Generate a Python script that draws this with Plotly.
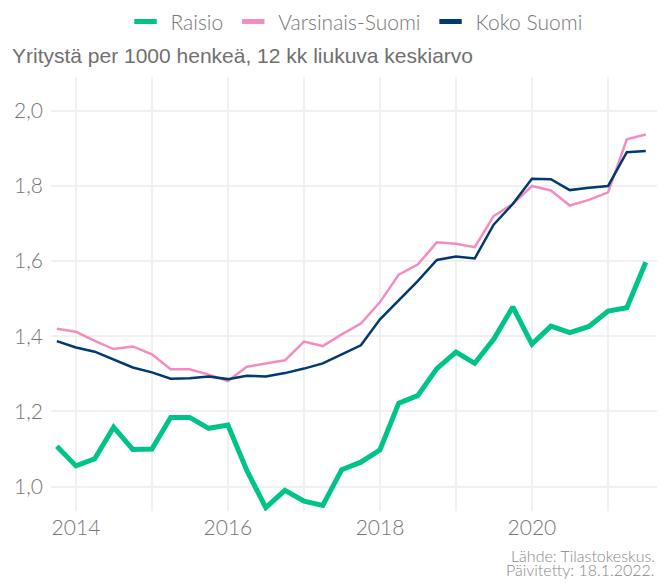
import plotly.graph_objects as go

dates = ["2013-10-01", "2014-01-01", "2014-04-01", "2014-07-01", "2014-10-01",
         "2015-01-01", "2015-04-01", "2015-07-01", "2015-10-01",
         "2016-01-01", "2016-04-01", "2016-07-01", "2016-10-01",
         "2017-01-01", "2017-04-01", "2017-07-01", "2017-10-01",
         "2018-01-01", "2018-04-01", "2018-07-01", "2018-10-01",
         "2019-01-01", "2019-04-01", "2019-07-01", "2019-10-01",
         "2020-01-01", "2020-04-01", "2020-07-01", "2020-10-01",
         "2021-01-01", "2021-04-01", "2021-07-01"]

raisio = [1.107, 1.055, 1.074, 1.158, 1.099, 1.100, 1.184, 1.184, 1.155,
          1.164, 1.043, 0.944, 0.990, 0.961, 0.950, 1.045, 1.065, 1.098,
          1.222, 1.242, 1.314, 1.358, 1.328, 1.392, 1.478, 1.379, 1.427,
          1.410, 1.426, 1.467, 1.476, 1.597]

varsinais = [1.420, 1.412, 1.388, 1.366, 1.373, 1.352, 1.312, 1.312, 1.298,
             1.281, 1.319, 1.328, 1.336, 1.386, 1.374, 1.405, 1.434, 1.491,
             1.564, 1.591, 1.650, 1.646, 1.637, 1.720, 1.752, 1.800, 1.788,
             1.748, 1.763, 1.783, 1.924, 1.937]

koko = [1.387, 1.370, 1.359, 1.339, 1.317, 1.304, 1.287, 1.288, 1.293,
        1.286, 1.295, 1.293, 1.302, 1.314, 1.328, 1.352, 1.376, 1.445,
        1.495, 1.547, 1.603, 1.612, 1.607, 1.697, 1.752, 1.819, 1.818,
        1.789, 1.795, 1.800, 1.890, 1.893]

series = [("Raisio", raisio, "#00c389", 5),
          ("Varsinais-Suomi", varsinais, "#f48cc0", 2.5),
          ("Koko Suomi", koko, "#003a70", 2.5)]

fig = go.Figure()
for name, vals, col, w in series:
    fig.add_trace(go.Scatter(x=dates, y=vals, name=name, mode="lines",
                             line=dict(color=col, width=w), showlegend=False,
                             legendgroup=name))
# short thick legend keys
for name, vals, col, w in series:
    fig.add_trace(go.Scatter(x=[None], y=[None], name=name, mode="markers",
                             marker=dict(symbol="line-ew", size=16,
                                         line=dict(color=col, width=5)),
                             legendgroup=name))

# page body has an 8px margin, so the figure is 8px smaller than the window
fig.update_layout(
    width=662, height=575,
    margin=dict(l=43, r=13, t=69, b=72),
    plot_bgcolor="white", paper_bgcolor="white",
    font=dict(family="Lato", color="#777777", size=17),
    separators=", ",
    showlegend=True,
    legend=dict(orientation="h", x=0.50, xanchor="center", y=0.9757, yref="container",
                yanchor="middle", font=dict(size=21, color="#777777", weight=300),
                itemwidth=40, traceorder="normal"),
    title=dict(text="Yritystä per 1000 henkeä, 12 kk liukuva keskiarvo",
               x=0.006, xref="container", xanchor="left",
               y=0.918, yref="container", yanchor="middle",
               font=dict(family="Liberation Sans", size=21, color="#707070")),
    annotations=[
        dict(text="Lähde: Tilastokeskus.", xref="paper", yref="paper",
             x=1.0, y=-0.1014, xanchor="right", yanchor="middle", showarrow=False,
             font=dict(size=16, color="#888888", weight=300)),
        dict(text="Päivitetty: 18.1.2022.", xref="paper", yref="paper",
             x=1.0, y=-0.1359, xanchor="right", yanchor="middle", showarrow=False,
             font=dict(size=16, color="#888888", weight=300)),
    ],
)
fig.update_xaxes(showgrid=True, gridcolor="#f0f0f0", gridwidth=1.5,
                 dtick="M12", tick0="2014-01-01", tickformat="%Y", ticklabelstep=2,
                 range=["2013-09-03", "2021-08-24"], zeroline=False, automargin=False,
                 tickfont=dict(size=21, color="#777777", weight=300), ticks="",
                 ticklabelstandoff=2)
fig.update_yaxes(showgrid=True, gridcolor="#f0f0f0", gridwidth=1.5,
                 range=[0.935, 2.09], dtick=0.2, tickformat=".1f", zeroline=False,
                 automargin=False,
                 tickfont=dict(size=21, color="#777777", weight=300), ticks="",
                 ticklabelstandoff=7)

fig.write_html("out.html")
